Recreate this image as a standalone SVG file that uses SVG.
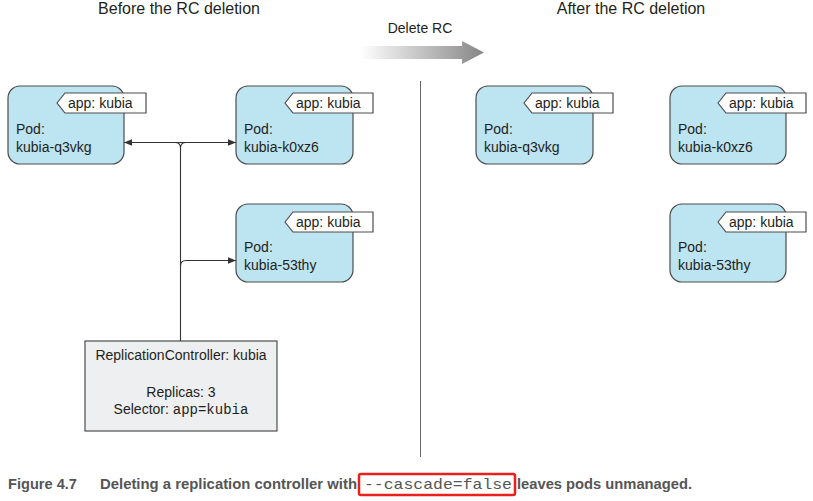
<svg xmlns="http://www.w3.org/2000/svg" width="813" height="501" viewBox="0 0 813 501">
<style>
.t{font-family:"Liberation Sans",Arial,sans-serif;font-size:14px;fill:#231f20}
.h{font-family:"Liberation Sans",Arial,sans-serif;font-size:16px;fill:#231f20}
.m{font-family:"Liberation Mono","Courier New",monospace;font-size:14px;fill:#231f20}
.pod{fill:#bde4f1;stroke:#4d4d4d;stroke-width:1.2}
.tag{fill:#fff;stroke:#4d4d4d;stroke-width:1.2}
.rc{fill:#eeeff0;stroke:#4d4d4d;stroke-width:1.2}
.ln{fill:none;stroke:#333;stroke-width:1.1}
.cap{font-family:"Liberation Sans",Arial,sans-serif;font-size:15px;font-weight:bold;fill:#555}
.capm{font-family:"Liberation Mono","Courier New",monospace;font-size:15px;fill:#555}
</style>
<defs>
<marker id="ah" viewBox="0 0 10 10" refX="10" refY="5" markerWidth="8" markerHeight="8" markerUnits="userSpaceOnUse" orient="auto-start-reverse">
<path d="M0,1 L10,5 L0,9 z" fill="#333"/>
</marker>
<linearGradient id="grad" x1="0" y1="0" x2="1" y2="0">
<stop offset="0" stop-color="#ffffff"/>
<stop offset="1" stop-color="#868686"/>
</linearGradient>
</defs>

<text class="h" x="179" y="14" text-anchor="middle">Before the RC deletion</text>
<text class="h" x="631" y="14" text-anchor="middle">After the RC deletion</text>

<g id="delete-arrow">
<text class="t" x="420" y="33" text-anchor="middle">Delete RC</text>
<path d="M360,46 H462 V41 L484,52.5 L462,64 V59 H360 z" fill="url(#grad)"/>
</g>

<line x1="420.5" y1="81" x2="420.5" y2="457" stroke="#666" stroke-width="1"/>

<g id="pod-q3vkg">
<rect class="pod" x="8" y="86" width="116" height="78" rx="12"/>
<path class="tag" d="M57,103 L65,93 H146 V113 H65 z"/>
<text class="t" x="68" y="108">app: kubia</text>
<text class="t" x="16" y="134">Pod:</text>
<text class="t" x="16" y="152">kubia-q3vkg</text>
</g>
<g id="pod-k0xz6">
<rect class="pod" x="236" y="86" width="117" height="78" rx="12"/>
<path class="tag" d="M285,103 L293,93 H373 V113 H293 z"/>
<text class="t" x="296" y="108">app: kubia</text>
<text class="t" x="244" y="134">Pod:</text>
<text class="t" x="244" y="152">kubia-k0xz6</text>
</g>
<g id="pod-53thy">
<rect class="pod" x="236" y="204" width="117" height="78" rx="12"/>
<path class="tag" d="M285,222 L293,212 H373 V232 H293 z"/>
<text class="t" x="296" y="227">app: kubia</text>
<text class="t" x="244" y="252">Pod:</text>
<text class="t" x="244" y="270">kubia-53thy</text>
</g>

<g id="rc">
<rect class="rc" x="85" y="341" width="192" height="90"/>
<text class="t" x="181" y="360" text-anchor="middle">ReplicationController: kubia</text>
<text class="t" x="181" y="397" text-anchor="middle">Replicas: 3</text>
<text class="t" x="181" y="414" text-anchor="middle">Selector: <tspan class="m">app=kubia</tspan></text>
</g>

<g id="connectors">
<path class="ln" d="M124,142.5 H236" marker-start="url(#ah)" marker-end="url(#ah)"/>
<path class="ln" d="M180.5,341 V148 Q180.5,142.5 175,142.5 M180.5,148 Q180.5,142.5 186,142.5"/>
<path class="ln" d="M180.5,266 Q180.5,260.5 186,260.5 H236" marker-end="url(#ah)"/>
</g>

<g id="pod-q3vkg-after">
<rect class="pod" x="476" y="86" width="117" height="78" rx="12"/>
<path class="tag" d="M524,103 L532,93 H613 V113 H532 z"/>
<text class="t" x="535" y="108">app: kubia</text>
<text class="t" x="484" y="134">Pod:</text>
<text class="t" x="484" y="152">kubia-q3vkg</text>
</g>
<g id="pod-k0xz6-after">
<rect class="pod" x="670" y="86" width="116" height="78" rx="12"/>
<path class="tag" d="M718,103 L726,93 H806 V113 H726 z"/>
<text class="t" x="729" y="108">app: kubia</text>
<text class="t" x="678" y="134">Pod:</text>
<text class="t" x="678" y="152">kubia-k0xz6</text>
</g>
<g id="pod-53thy-after">
<rect class="pod" x="670" y="204" width="116" height="78" rx="12"/>
<path class="tag" d="M718,222 L726,212 H806 V232 H726 z"/>
<text class="t" x="729" y="227">app: kubia</text>
<text class="t" x="678" y="252">Pod:</text>
<text class="t" x="678" y="270">kubia-53thy</text>
</g>

<g id="caption">
<text class="cap" x="8" y="489" textLength="69" lengthAdjust="spacingAndGlyphs">Figure 4.7</text>
<text class="cap" x="100" y="489" textLength="257" lengthAdjust="spacingAndGlyphs">Deleting a replication controller with</text>
<text class="capm" x="364" y="489" textLength="148" lengthAdjust="spacingAndGlyphs">--cascade=false</text>
<text class="cap" x="517" y="489" textLength="175" lengthAdjust="spacingAndGlyphs">leaves pods unmanaged.</text>
<rect x="359" y="474" width="156" height="21" rx="2" fill="none" stroke="#e8221b" stroke-width="2.5"/>
</g>
</svg>
